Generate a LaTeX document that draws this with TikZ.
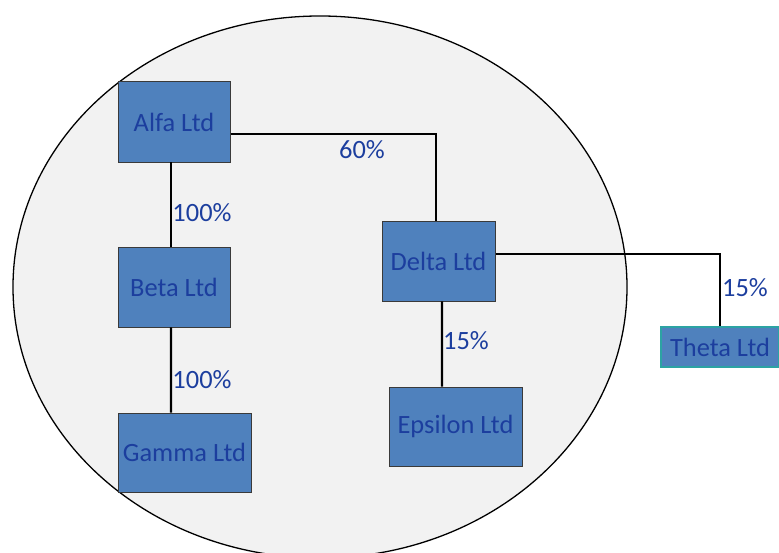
\documentclass[tikz,border=0pt]{standalone}
\usepackage{fontspec}
\setmainfont{Carlito}
\definecolor{boxfill}{HTML}{4F81BD}
\definecolor{boxline}{HTML}{3A3A3A}
\definecolor{txtblue}{RGB}{28,62,158}
\definecolor{ellfill}{HTML}{F2F2F2}
\definecolor{tealline}{HTML}{2CA3A3}
\tikzset{
  company/.style={draw=boxline, line width=1pt, fill=boxfill, text=txtblue, inner sep=0pt,
    font=\fontsize{26.5}{31}\selectfont, minimum width=#1},
  company/.default=112bp,
  pct/.style={text=txtblue, inner sep=0pt, font=\fontsize{26.5}{31}\selectfont},
  link/.style={draw=black, line width=2.2pt}
}
\begin{document}
\begin{tikzpicture}[x=1bp,y=-1bp]
\useasboundingbox (0,0) rectangle (779,553);
\clip (0,0) rectangle (779,553);
\draw[fill=ellfill, line width=1.3pt] (320,287) ellipse [x radius=307bp, y radius=271bp];
\node[company=112bp, minimum height=80bp] (alfa) at (174,122) {Alfa Ltd};
\node[company=112bp, minimum height=80bp] (beta) at (174,287) {Beta Ltd};
\node[company=133bp, minimum height=79bp] (gamma) at (184.5,452.5) {Gamma Ltd};
\node[company=113bp, minimum height=80bp] (delta) at (438.5,261) {Delta Ltd};
\node[company=133bp, minimum height=79bp] (epsilon) at (455.5,426.5) {Epsilon Ltd};
\node[company=118bp, minimum height=40bp, draw=tealline, line width=1.5pt] (theta) at (720,347) {Theta Ltd};
\draw[link] ([xshift=-3bp]alfa.south) -- ([xshift=-3bp]beta.north);
\draw[link] ([xshift=-3bp]beta.south) -- ([xshift=-13.5bp]gamma.north);
\draw[link] ([yshift=-12bp]alfa.east) -| ([xshift=-2.5bp]delta.north);
\draw[link] ([xshift=3.5bp]delta.south) -- ([xshift=-13.5bp]epsilon.north);
\draw[link] ([yshift=7bp]delta.east) -| (theta.north);
\node[pct] (p60) at (362,150) {60\%};
\node[pct] (p100a) at (202,213) {100\%};
\node[pct] (p100b) at (202,380) {100\%};
\node[pct] (p15a) at (466,341) {15\%};
\node[pct] (p15b) at (745,288) {15\%};
\end{tikzpicture}
\end{document}
